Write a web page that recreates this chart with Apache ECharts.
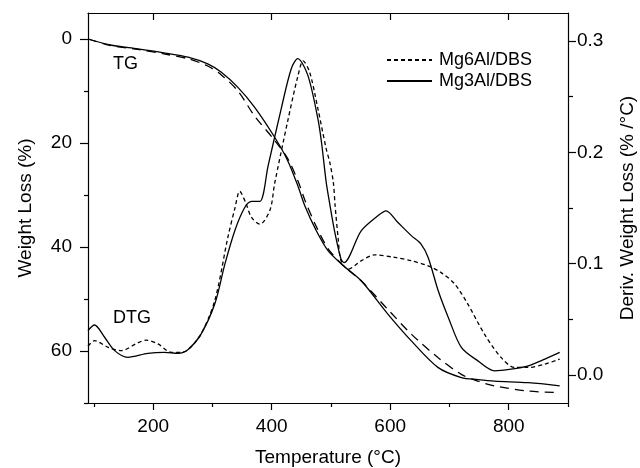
<!DOCTYPE html>
<html>
<head>
<meta charset="utf-8">
<script src="https://cdn.jsdelivr.net/npm/echarts@6/dist/echarts.min.js"></script>
<style>
  html, body { margin: 0; padding: 0; background: #fff; }
  #chart { width: 640px; height: 468px; }
</style>
</head>
<body>
<div id="chart"></div>
<script>
// TG curves (left axis, weight loss %)
const tgTemp = [90, 130, 174, 220, 259, 292, 315, 343, 371, 405, 427, 445, 456, 475, 495, 520, 551, 596, 636, 681, 720, 748, 776, 833, 886];
const tgMg3Al = [0, 1.2, 1.9, 2.7, 3.5, 4.8, 6.4, 9.3, 13.1, 18.9, 23.4, 28.5, 32.1, 36.8, 40.7, 43.5, 46.5, 52.9, 58.1, 63.2, 65.1, 65.5, 65.8, 66.1, 66.7];
const tgMg6Al = [0, 1.3, 2.0, 2.9, 3.8, 5.2, 6.9, 10.0, 14.8, 19.5, 23.0, 27.5, 31.0, 36.0, 40.3, 43.5, 46.5, 52.0, 56.8, 61.3, 64.5, 65.8, 66.7, 67.7, 68.0];

// DTG curves (right axis, %/°C)
const dtgTempMg3Al = [90, 101, 118, 135, 157, 191, 219, 242, 259, 281, 304, 321, 338, 354, 366, 380, 394, 416, 433, 444, 461, 478, 484, 492, 498, 506, 517, 522, 551, 579, 593, 613, 636, 652, 664, 681, 698, 720, 748, 776, 804, 833, 861, 886];
const dtgMg3Al = [0.040, 0.045, 0.034, 0.022, 0.016, 0.0195, 0.0204, 0.0195, 0.023, 0.037, 0.064, 0.0996, 0.130, 0.150, 0.156, 0.156, 0.188, 0.239, 0.275, 0.284, 0.269, 0.230, 0.209, 0.173, 0.1535, 0.1295, 0.104, 0.101, 0.1295, 0.143, 0.1475, 0.137, 0.125, 0.1176, 0.1056, 0.0757, 0.0518, 0.0249, 0.0128, 0.0039, 0.0054, 0.0084, 0.0144, 0.0204];
const dtgTempMg6Al = [90, 101, 124, 146, 174, 188, 208, 231, 248, 259, 281, 304, 326, 338, 346, 356, 366, 380, 397, 405, 427, 444, 453, 464, 478, 492, 498, 504, 507, 512, 517, 529, 551, 574, 608, 636, 664, 686, 709, 731, 759, 787, 810, 833, 861, 886];
const dtgMg6Al = [0.026, 0.031, 0.025, 0.022, 0.029, 0.0314, 0.028, 0.0204, 0.0204, 0.023, 0.037, 0.067, 0.1236, 0.150, 0.165, 0.155, 0.1415, 0.1355, 0.148, 0.172, 0.228, 0.268, 0.282, 0.272, 0.239, 0.203, 0.191, 0.173, 0.152, 0.1236, 0.1026, 0.0951, 0.1026, 0.108, 0.1056, 0.1026, 0.098, 0.092, 0.0817, 0.0637, 0.0368, 0.0159, 0.0069, 0.0069, 0.0099, 0.0144];

const xMajor = [200, 400, 600, 800];
const xMinor = [100, 300, 500, 700, 900];
const leftMajor = [0, 20, 40, 60];
const leftMinor = [10, 30, 50, 70];
const rightMajor = [0, 0.1, 0.2, 0.3];
const rightMinor = [0.05, 0.15, 0.25];

const font = 'Liberation Sans, Arial, sans-serif';
const zip = (xs, ys) => xs.map((x, i) => [x, ys[i]]);

const axisLine = { show: true, onZero: false, lineStyle: { color: '#000', width: 1.2 } };
const noLine = { show: false, onZero: false };
const tickStyle = { color: '#000', width: 1.2 };

const chart = echarts.init(document.getElementById('chart'));
chart.setOption({
  animation: false,
  backgroundColor: '#fff',
  textStyle: { fontFamily: font, color: '#000' },
  grid: { left: 88, top: 13, right: 72, bottom: 65, outerBoundsMode: 'none', containLabel: false },
  legend: {
    data: ['Mg6Al/DBS', 'Mg3Al/DBS'],
    orient: 'vertical',
    left: 386,
    top: 51,
    padding: 0,
    itemGap: 3,
    itemWidth: 45,
    itemHeight: 18,
    itemStyle: { opacity: 0 },
    textStyle: { fontSize: 18, color: '#000', fontFamily: font, padding: [0, 0, 0, 2] },
  },
  xAxis: [
    {
      type: 'value', position: 'bottom', min: 90, max: 900,
      name: 'Temperature (°C)', nameLocation: 'middle', nameGap: 45,
      nameTextStyle: { fontSize: 19, color: '#000', fontFamily: font },
      axisLine,
      splitLine: { show: false },
      axisTick: { show: true, length: 7, customValues: xMajor, lineStyle: tickStyle },
      axisLabel: { show: true, customValues: xMajor, fontSize: 19, color: '#000', margin: 14, fontFamily: font },
    },
    {
      type: 'value', position: 'top', min: 90, max: 900,
      axisLine,
      splitLine: { show: false },
      axisTick: { show: true, inside: true, length: 7, customValues: xMajor, lineStyle: tickStyle },
      axisLabel: { show: false },
    },
    {
      type: 'value', position: 'bottom', min: 90, max: 900,
      axisLine: noLine,
      splitLine: { show: false },
      axisTick: { show: true, length: 4, customValues: xMinor, lineStyle: tickStyle },
      axisLabel: { show: false },
    },
  ],
  yAxis: [
    {
      type: 'value', position: 'left', inverse: true, min: -5, max: 70,
      name: 'Weight Loss (%)', nameLocation: 'middle', nameGap: 53,
      nameTextStyle: { fontSize: 19, color: '#000', fontFamily: font },
      axisLine,
      splitLine: { show: false },
      axisTick: { show: true, length: 8, customValues: leftMajor, lineStyle: tickStyle },
      axisLabel: { show: true, customValues: leftMajor, fontSize: 19, color: '#000', margin: 16, fontFamily: font },
    },
    {
      type: 'value', position: 'right', min: -0.025, max: 0.325,
      name: 'Deriv. Weight Loss (% /°C)', nameLocation: 'middle', nameGap: 50, nameRotate: 90,
      nameTextStyle: { fontSize: 19, color: '#000', fontFamily: font },
      axisLine,
      splitLine: { show: false },
      axisTick: { show: true, length: 8, customValues: rightMajor, lineStyle: tickStyle },
      axisLabel: {
        show: true, customValues: rightMajor, fontSize: 19, color: '#000', margin: 9, fontFamily: font,
        formatter: (v) => v.toFixed(1),
      },
    },
    {
      type: 'value', position: 'left', inverse: true, min: -5, max: 70,
      axisLine: noLine,
      splitLine: { show: false },
      axisTick: { show: true, length: 4, customValues: leftMinor, lineStyle: tickStyle },
      axisLabel: { show: false },
    },
    {
      type: 'value', position: 'right', min: -0.025, max: 0.325,
      axisLine: noLine,
      splitLine: { show: false },
      axisTick: { show: true, length: 5, customValues: rightMinor, lineStyle: tickStyle },
      axisLabel: { show: false },
    },
  ],
  graphic: [
    { type: 'text', left: 113, top: 55, style: { text: 'TG', fill: '#000', font: '18px ' + font } },
    { type: 'text', left: 113, top: 309, style: { text: 'DTG', fill: '#000', font: '18px ' + font } },
  ],
  series: [
    {
      name: 'TG Mg3Al/DBS', type: 'line', xAxisIndex: 0, yAxisIndex: 0,
      data: zip(tgTemp, tgMg3Al), smooth: 0.3, symbol: 'none',
      lineStyle: { color: '#000', width: 1.3 },
    },
    {
      name: 'TG Mg6Al/DBS', type: 'line', xAxisIndex: 0, yAxisIndex: 0,
      data: zip(tgTemp, tgMg6Al), smooth: 0.3, symbol: 'none',
      lineStyle: { color: '#000', width: 1.3, type: [9, 6] },
    },
    {
      name: 'Mg3Al/DBS', type: 'line', xAxisIndex: 0, yAxisIndex: 1,
      data: zip(dtgTempMg3Al, dtgMg3Al), smooth: 0.3, symbol: 'none',
      itemStyle: { color: '#000' },
      lineStyle: { color: '#000', width: 1.3 },
    },
    {
      name: 'Mg6Al/DBS', type: 'line', xAxisIndex: 0, yAxisIndex: 1,
      data: zip(dtgTempMg6Al, dtgMg6Al), smooth: 0.3, symbol: 'none',
      itemStyle: { color: '#000' },
      lineStyle: { color: '#000', width: 1.3, type: [4, 3] },
    },
  ],
});
</script>
</body>
</html>
